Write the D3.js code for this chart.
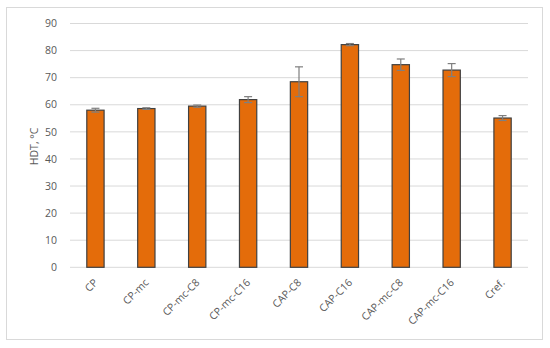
<!DOCTYPE html>
<html>
<head>
<meta charset="utf-8">
<script src="https://cdn.jsdelivr.net/npm/d3@7"></script>
<style>
  body { margin: 0; background: #fff; }
  svg { font-family: "Open Sans", "Liberation Sans", sans-serif; }
</style>
</head>
<body>
<svg width="550" height="348"></svg>
<script>
const categories = ["CP", "CP-mc", "CP-mc-C8", "CP-mc-C16", "CAP-C8", "CAP-C16", "CAP-mc-C8", "CAP-mc-C16", "Cref."];
const values = [58.0, 58.6, 59.5, 61.9, 68.5, 82.2, 74.8, 72.8, 55.1];
const errors = [0.7, 0.3, 0.4, 1.1, 5.5, 0.4, 2.1, 2.4, 0.9];
const yTicks = [0, 10, 20, 30, 40, 50, 60, 70, 80, 90];

const svg = d3.select("svg");
const margin = { left: 70, right: 22, top: 23.5, bottom: 80.7 };
const width = 550, height = 348;

// chart frame
svg.append("rect")
  .attr("x", 6.5).attr("y", 7.5)
  .attr("width", 536).attr("height", 332)
  .attr("fill", "#fff").attr("stroke", "#d9d9d9");

const x = d3.scaleBand()
  .domain(categories)
  .range([margin.left, width - margin.right])
  .paddingInner(0.66).paddingOuter(0.33);

const y = d3.scaleLinear()
  .domain([0, 90])
  .range([height - margin.bottom, margin.top]);

// gridlines
svg.append("g")
  .selectAll("line")
  .data(yTicks)
  .join("line")
  .attr("x1", margin.left).attr("x2", width - margin.right)
  .attr("y1", (d) => y(d)).attr("y2", (d) => y(d))
  .attr("stroke", "#d9d9d9").attr("stroke-width", 1);

// y tick labels
svg.append("g")
  .selectAll("text")
  .data(yTicks)
  .join("text")
  .attr("x", margin.left - 13)
  .attr("y", (d) => y(d))
  .attr("dy", "0.35em")
  .attr("text-anchor", "end")
  .attr("font-size", 10.5)
  .attr("fill", "#595959")
  .text((d) => d);

// y axis title
svg.append("text")
  .attr("transform", `translate(38,${(y(0) + y(90)) / 2 + 1}) rotate(-90)`)
  .attr("text-anchor", "middle")
  .attr("font-size", 10.5)
  .attr("fill", "#595959")
  .text("HDT, °C");

// bars
svg.append("g")
  .selectAll("rect")
  .data(categories)
  .join("rect")
  .attr("x", (d) => x(d))
  .attr("y", (d, i) => y(values[i]))
  .attr("width", x.bandwidth())
  .attr("height", (d, i) => y(0) - y(values[i]))
  .attr("fill", "#e46c0a")
  .attr("stroke", "#404040")
  .attr("stroke-width", 1.2);

// error bars
const eg = svg.append("g").attr("stroke", "#7f7f7f").attr("stroke-width", 1.2);
categories.forEach((c, i) => {
  const cx = x(c) + x.bandwidth() / 2;
  const top = y(values[i] + errors[i]);
  const bot = y(values[i] - errors[i]);
  eg.append("line").attr("x1", cx).attr("x2", cx).attr("y1", top).attr("y2", bot);
  eg.append("line").attr("x1", cx - 4).attr("x2", cx + 4).attr("y1", top).attr("y2", top);
  eg.append("line").attr("x1", cx - 4).attr("x2", cx + 4).attr("y1", bot).attr("y2", bot);
});

// x labels
svg.append("g")
  .selectAll("text")
  .data(categories)
  .join("text")
  .attr("transform", (d) => `translate(${x(d) + x.bandwidth() / 2 + 3},${y(0) + 16}) rotate(-45)`)
  .attr("text-anchor", "end")
  .attr("font-size", 10.5)
  .attr("fill", "#595959")
  .text((d) => d);
</script>
</body>
</html>
